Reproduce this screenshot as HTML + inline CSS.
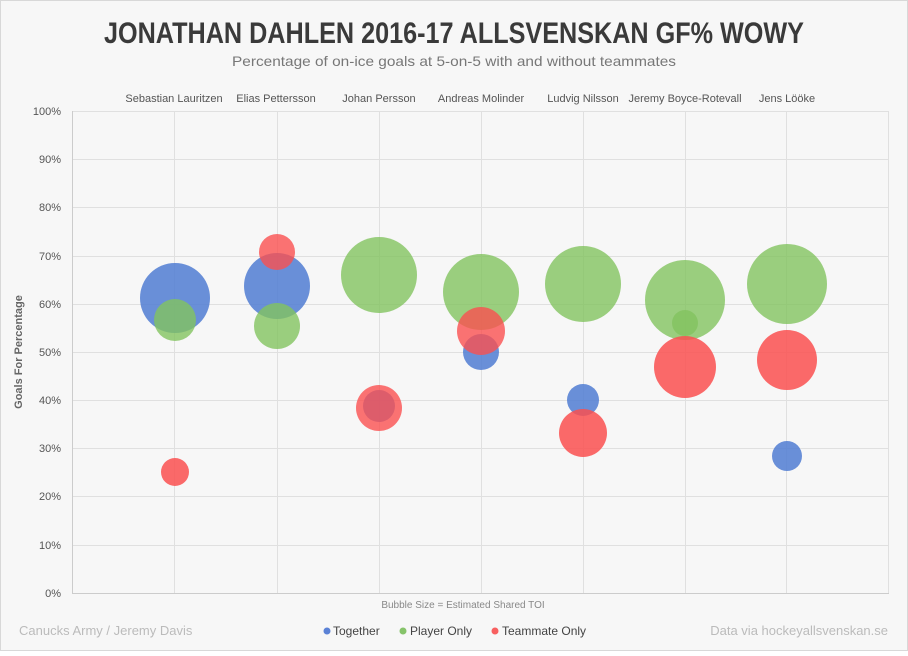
<!DOCTYPE html>
<html><head><style>
body{margin:0;background:#fff}
svg text{font-family:"Liberation Sans Narrow","Liberation Sans",sans-serif}
</style></head><body>
<svg width="908" height="651" xmlns="http://www.w3.org/2000/svg">
<rect x="0.5" y="0.5" width="907" height="650" fill="#f7f7f7" stroke="#d8d8d8"/>
<text x="454" y="43" text-anchor="middle" font-size="30" font-weight="bold" fill="#3a3a3a" textLength="700" lengthAdjust="spacingAndGlyphs">JONATHAN DAHLEN 2016-17 ALLSVENSKAN GF% WOWY</text>
<text x="454" y="66" text-anchor="middle" font-size="14" fill="#777" textLength="444" lengthAdjust="spacingAndGlyphs">Percentage of on-ice goals at 5-on-5 with and without teammates</text>
<g font-size="11" fill="#555" text-anchor="middle">
<text x="174" y="102">Sebastian Lauritzen</text>
<text x="276" y="102">Elias Pettersson</text>
<text x="379" y="102">Johan Persson</text>
<text x="481" y="102">Andreas Molinder</text>
<text x="583" y="102">Ludvig Nilsson</text>
<text x="685" y="102">Jeremy Boyce-Rotevall</text>
<text x="787" y="102">Jens Lööke</text>
</g>
<g stroke="#e0e0e0" stroke-width="1">
<line x1="72" y1="111.5" x2="889" y2="111.5"/><line x1="72" y1="159.5" x2="889" y2="159.5"/><line x1="72" y1="207.5" x2="889" y2="207.5"/><line x1="72" y1="256.5" x2="889" y2="256.5"/><line x1="72" y1="304.5" x2="889" y2="304.5"/><line x1="72" y1="352.5" x2="889" y2="352.5"/><line x1="72" y1="400.5" x2="889" y2="400.5"/><line x1="72" y1="448.5" x2="889" y2="448.5"/><line x1="72" y1="496.5" x2="889" y2="496.5"/><line x1="72" y1="545.5" x2="889" y2="545.5"/>
<line x1="174.5" y1="111" x2="174.5" y2="593"/><line x1="277.5" y1="111" x2="277.5" y2="593"/><line x1="379.5" y1="111" x2="379.5" y2="593"/><line x1="481.5" y1="111" x2="481.5" y2="593"/><line x1="583.5" y1="111" x2="583.5" y2="593"/><line x1="685.5" y1="111" x2="685.5" y2="593"/><line x1="786.5" y1="111" x2="786.5" y2="593"/><line x1="888.5" y1="111" x2="888.5" y2="593"/>
</g>
<line x1="72.5" y1="111" x2="72.5" y2="594" stroke="#ccc"/>
<line x1="72" y1="593.5" x2="889" y2="593.5" stroke="#ccc"/>
<g font-size="11" fill="#555" text-anchor="end">
<text x="61" y="115">100%</text><text x="61" y="163">90%</text><text x="61" y="211">80%</text><text x="61" y="260">70%</text><text x="61" y="308">60%</text><text x="61" y="356">50%</text><text x="61" y="404">40%</text><text x="61" y="452">30%</text><text x="61" y="500">20%</text><text x="61" y="549">10%</text><text x="61" y="597">0%</text>
</g>
<text transform="translate(22,352) rotate(-90)" text-anchor="middle" font-size="11" font-weight="bold" fill="#666">Goals For Percentage</text>
<g>
<circle cx="175" cy="298" r="35" fill="rgba(80,125,210,0.85)"/>
<circle cx="175" cy="320" r="21" fill="rgba(130,195,95,0.8)"/>
<circle cx="175" cy="472" r="14" fill="rgba(250,80,80,0.85)"/>
<circle cx="277" cy="286" r="33" fill="rgba(80,125,210,0.85)"/>
<circle cx="277" cy="252" r="18" fill="rgba(250,80,80,0.8)"/>
<circle cx="277" cy="326" r="23" fill="rgba(130,195,95,0.8)"/>
<circle cx="379" cy="275" r="38" fill="rgba(130,195,95,0.8)"/>
<circle cx="379" cy="406" r="16" fill="rgba(80,125,210,0.85)"/>
<circle cx="379" cy="408" r="23" fill="rgba(250,80,80,0.8)"/>
<circle cx="481" cy="292" r="38" fill="rgba(130,195,95,0.8)"/>
<circle cx="481" cy="352" r="18" fill="rgba(80,125,210,0.85)"/>
<circle cx="481" cy="331" r="24" fill="rgba(250,80,80,0.8)"/>
<circle cx="583" cy="284" r="38" fill="rgba(130,195,95,0.8)"/>
<circle cx="583" cy="400" r="16" fill="rgba(80,125,210,0.85)"/>
<circle cx="583" cy="433" r="24" fill="rgba(250,80,80,0.85)"/>
<circle cx="685" cy="300" r="40" fill="rgba(130,195,95,0.8)"/>
<circle cx="685" cy="323" r="13" fill="rgba(130,195,95,0.8)"/>
<circle cx="685" cy="367" r="31" fill="rgba(250,80,80,0.85)"/>
<circle cx="787" cy="284" r="40" fill="rgba(130,195,95,0.8)"/>
<circle cx="787" cy="360" r="30" fill="rgba(250,80,80,0.85)"/>
<circle cx="787" cy="456" r="15" fill="rgba(80,125,210,0.85)"/>
</g>
<text x="463" y="608" text-anchor="middle" font-size="10" fill="#888">Bubble Size = Estimated Shared TOI</text>
<text x="19" y="635" font-size="13" fill="#bbb">Canucks Army / Jeremy Davis</text>
<text x="888" y="635" text-anchor="end" font-size="13" fill="#bbb">Data via hockeyallsvenskan.se</text>
<g font-size="12" fill="#444">
<circle cx="327" cy="631" r="3.5" fill="#5b82d6"/><text x="333" y="635">Together</text>
<circle cx="403" cy="631" r="3.5" fill="#86c36a"/><text x="410" y="635">Player Only</text>
<circle cx="495" cy="631" r="3.5" fill="#f86060"/><text x="502" y="635">Teammate Only</text>
</g>
</svg>
</body></html>
